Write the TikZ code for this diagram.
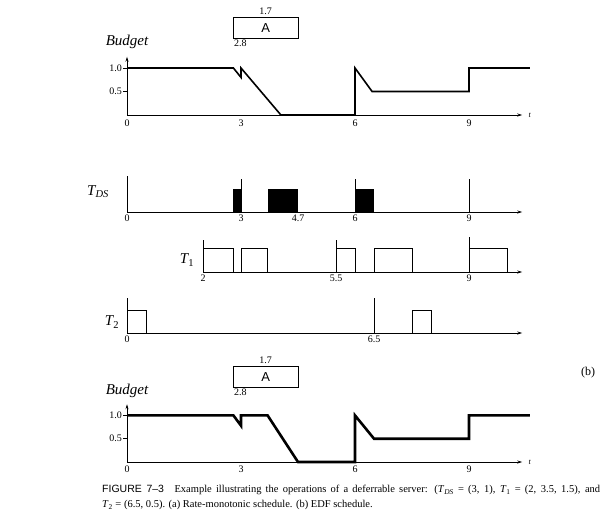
\documentclass[tikz,border=0pt]{standalone}
\usepackage{fontspec}
\setmainfont{Liberation Serif}
\setsansfont{Liberation Sans}
\usetikzlibrary{arrows.meta}

\begin{document}
\begin{tikzpicture}[every node/.style={font=\fontsize{10}{11}\selectfont},
  ax/.style={line width=0.8pt,-{Stealth[length=5pt,width=3pt]}},
  tk/.style={line width=0.8pt},
  job/.style={draw,line width=0.8pt},
  dsjob/.style={fill=black},
  budg/.style={line width=1.6pt,line join=miter},
  lbl/.style={anchor=north,inner sep=1pt},
  abox/.style={draw,line width=0.8pt,minimum width=64.6pt,minimum height=21pt,inner sep=0pt,font=\sffamily\fontsize{13}{13}\selectfont},
  ttl/.style={font=\itshape\fontsize{15}{15}\selectfont}]
\useasboundingbox (0,0) rectangle (604pt,-515pt);
% Budget, upper part
\begin{scope}[shift={(127pt,-115pt)},x=38pt,y=47pt]
  \node[abox] (ua) at (3.65,1.86) {A};
  \node[anchor=south,inner sep=2pt] (ua-len) at (ua.north) {1.7};
  \node[anchor=north west,inner sep=1pt] (ua-st) at (ua.south west) {2.8};
  \node[ttl] (ubud) at (0,1.55) {Budget};
  \draw[ax] (0,0) -- (10.4,0);
  \draw[ax] (0,0) -- (0,1.24);
  \foreach \v in {0.5,1} {\draw[tk] (-4pt,\v) -- (0,\v);}
  \node[anchor=east,inner sep=1pt] (u10) at (-4pt,1) {1.0};
  \node[anchor=east,inner sep=1pt] (u05) at (-4pt,0.5) {0.5};
  \foreach \t in {0,3,6,9} {\node[lbl] (ul\t) at (\t,-4pt) {\t};}
  \node[font=\itshape\fontsize{8}{8}\selectfont] (ut) at (10.6,0) {t};
  \draw[budg] (0,1) -- (2.8,1) -- (3,0.8) -- (3,1) -- (4.05,0) -- (6,0) -- (6,1)
    -- (6.45,0.5) -- (9,0.5) -- (9,1) -- (10.6,1);
\end{scope}
% Server T_DS
\begin{scope}[shift={(127pt,-212pt)},x=38pt,y=23pt]
  \node[ttl] (tds) at (-29pt,20pt) {T\textsubscript{DS}};
  \draw[ax] (0,0) -- (10.4,0);
  \draw[tk] (0,0) -- (0,1.57);
  \foreach \t in {3,6,9} {\draw[tk] (\t,0) -- (\t,1.43);}
  \foreach \a/\b in {2.8/3,3.7/4.5,6/6.5} {\fill[dsjob] (\a,0) rectangle (\b,1);}
  \foreach \t/\s [count=\i] in {0/0,3/3,4.5/4.7,6/6,9/9} {\node[lbl] (dl\i) at (\t,-2pt) {\s};}
\end{scope}
% Task T_1
\begin{scope}[shift={(127pt,-272pt)},x=38pt,y=23.5pt]
  \node[ttl] (t1) at (60pt,12pt) {T\textsubscript{\textup{1}}};
  \draw[ax] (2,0) -- (10.4,0);
  \foreach \t/\h in {2/1.35,5.5/1.35,9/1.5} {\draw[tk] (\t,0) -- (\t,\h);}
  \foreach \a/\b in {2/2.8,3/3.7,5.5/6,6.5/7.5,9/10} {\draw[job] (\a,0) rectangle (\b,1);}
  \foreach \t [count=\i] in {2,5.5,9} {\node[lbl] (al\i) at (\t,-2pt) {\t};}
\end{scope}
% Task T_2
\begin{scope}[shift={(127pt,-333pt)},x=38pt,y=23pt]
  \node[ttl] (t2) at (-15pt,11pt) {T\textsubscript{\textup{2}}};
  \draw[ax] (0,0) -- (10.4,0);
  \foreach \t in {0,6.5} {\draw[tk] (\t,0) -- (\t,1.52);}
  \foreach \a/\b in {0/0.5,7.5/8} {\draw[job] (\a,0) rectangle (\b,1);}
  \foreach \t [count=\i] in {0,6.5} {\node[lbl] (bl\i) at (\t,-2pt) {\t};}
\end{scope}
% Budget, lower part
\begin{scope}[shift={(127pt,-462pt)},x=38pt,y=46.6pt]
  \node[abox] (la) at (3.65,1.83) {A};
  \node[anchor=south,inner sep=2pt] (la-len) at (la.north) {1.7};
  \node[anchor=north west,inner sep=1pt] (la-st) at (la.south west) {2.8};
  \node[ttl] (lbud) at (0,1.52) {Budget};
  \draw[ax] (0,0) -- (10.4,0);
  \draw[ax] (0,0) -- (0,1.24);
  \foreach \v in {0.5,1} {\draw[tk] (-4pt,\v) -- (0,\v);}
  \node[anchor=east,inner sep=1pt] (l10) at (-4pt,1) {1.0};
  \node[anchor=east,inner sep=1pt] (l05) at (-4pt,0.5) {0.5};
  \foreach \t in {0,3,6,9} {\node[lbl] (ll\t) at (\t,-3pt) {\t};}
  \node[font=\itshape\fontsize{8}{8}\selectfont] (lt) at (10.6,0) {t};
  \draw[budg,line width=2.6pt] (0,1) -- (2.8,1) -- (3,0.78) -- (3,1) -- (3.7,1) -- (4.5,0)
    -- (6,0) -- (6,1) -- (6.5,0.5) -- (9,0.5) -- (9,1) -- (10.6,1);
\end{scope}
\node[font=\fontsize{12}{12}\selectfont] (tagb) at (588pt,-373pt) {(b)};
% Caption
\node[anchor=north west,inner sep=0pt,font=\fontsize{10.5}{15}\selectfont] (cap) at (102pt,-485pt)
  {\parbox{498pt}{{\sffamily FIGURE 7–3}\hspace{1em}Example illustrating the operations of a deferrable server: (\textit{T}\textsubscript{\textit{DS}} = (3, 1), \textit{T}\textsubscript{1} = (2, 3.5, 1.5), and\linebreak
  \textit{T}\textsubscript{2} = (6.5, 0.5). (a) Rate-monotonic schedule. (b) EDF schedule.}};
\end{tikzpicture}
\end{document}
